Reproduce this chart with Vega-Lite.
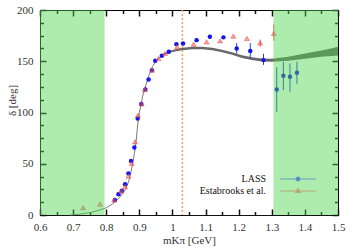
{
  "$schema": "https://vega.github.io/schema/vega-lite/v6.json",
  "width": 298,
  "height": 205,
  "autosize": {"type": "none"},
  "padding": {"left": 40, "top": 10, "right": 22, "bottom": 35},
  "background": "white",
  "config": {
    "view": {"stroke": "black", "strokeWidth": 1},
    "axis": {
      "grid": false,
      "labelFont": "Liberation Serif",
      "labelFontSize": 11,
      "labelColor": "#333",
      "titleFont": "Liberation Serif",
      "titleFontSize": 11,
      "titleFontWeight": "normal",
      "titleColor": "#333",
      "domainColor": "#111",
      "labelOverlap": false,
      "labelFlush": false
    },
    "legend": {
      "orient": "none",
      "legendX": 252,
      "legendY": 163,
      "padding": 0,
      "labelFont": "Liberation Serif",
      "labelFontSize": 10,
      "labelColor": "#111",
      "labelAlign": "right",
      "labelOffset": -38,
      "symbolSize": 100,
      "symbolStrokeWidth": 1.2,
      "rowPadding": 1
    }
  },
  "datasets": {
    "curve": [
      {"m": 0.69, "d": 0}, {"m": 0.72, "d": 0.8}, {"m": 0.74, "d": 1.7}, {"m": 0.76, "d": 3},
      {"m": 0.78, "d": 4.9}, {"m": 0.8, "d": 7}, {"m": 0.82, "d": 11}, {"m": 0.84, "d": 17},
      {"m": 0.85, "d": 21}, {"m": 0.86, "d": 26}, {"m": 0.87, "d": 35}, {"m": 0.88, "d": 50},
      {"m": 0.885, "d": 60}, {"m": 0.89, "d": 71}, {"m": 0.895, "d": 88}, {"m": 0.9, "d": 100},
      {"m": 0.905, "d": 108}, {"m": 0.91, "d": 116}, {"m": 0.92, "d": 127}, {"m": 0.93, "d": 137},
      {"m": 0.94, "d": 145}, {"m": 0.95, "d": 150}, {"m": 0.96, "d": 153.5}, {"m": 0.98, "d": 157.5},
      {"m": 1.0, "d": 160}, {"m": 1.03, "d": 162}, {"m": 1.06, "d": 163}, {"m": 1.09, "d": 163},
      {"m": 1.12, "d": 162}, {"m": 1.15, "d": 160}, {"m": 1.18, "d": 157.5}, {"m": 1.21, "d": 154.5},
      {"m": 1.24, "d": 152.5}, {"m": 1.27, "d": 151.2}, {"m": 1.3, "d": 151}, {"m": 1.35, "d": 152.5},
      {"m": 1.4, "d": 155}, {"m": 1.45, "d": 157.5}, {"m": 1.5, "d": 160}
    ],
    "band": [
      {"m": 0.97, "lo": 156, "hi": 157},
      {"m": 1.0, "lo": 159, "hi": 161},
      {"m": 1.03, "lo": 160.8, "hi": 163.2},
      {"m": 1.06, "lo": 161.8, "hi": 164.2},
      {"m": 1.09, "lo": 161.8, "hi": 164.2},
      {"m": 1.12, "lo": 160.8, "hi": 163.2},
      {"m": 1.15, "lo": 158.8, "hi": 161.2},
      {"m": 1.18, "lo": 156.3, "hi": 158.7},
      {"m": 1.21, "lo": 153.2, "hi": 155.8},
      {"m": 1.24, "lo": 151.2, "hi": 153.8},
      {"m": 1.27, "lo": 149.8, "hi": 152.6},
      {"m": 1.3, "lo": 149.5, "hi": 152.5},
      {"m": 1.35, "lo": 150.5, "hi": 154.5},
      {"m": 1.4, "lo": 152.5, "hi": 157.5},
      {"m": 1.45, "lo": 154.5, "hi": 160.5},
      {"m": 1.5, "lo": 155.5, "hi": 164}
    ],
    "threshold": [{"m": 1.03}],
    "zones": [{"a": 0.6, "b": 0.795}, {"a": 1.305, "b": 1.5}],
    "lass": [
      {"series": "LASS", "m": 0.826, "d": 14.6},
      {"series": "LASS", "m": 0.837, "d": 20.2},
      {"series": "LASS", "m": 0.847, "d": 23.7},
      {"series": "LASS", "m": 0.857, "d": 29.9},
      {"series": "LASS", "m": 0.867, "d": 40.6},
      {"series": "LASS", "m": 0.875, "d": 52.6},
      {"series": "LASS", "m": 0.885, "d": 65.8},
      {"series": "LASS", "m": 0.895, "d": 94.2},
      {"series": "LASS", "m": 0.906, "d": 108.2},
      {"series": "LASS", "m": 0.918, "d": 122.5},
      {"series": "LASS", "m": 0.928, "d": 132.3},
      {"series": "LASS", "m": 0.938, "d": 141.3},
      {"series": "LASS", "m": 0.948, "d": 150.4},
      {"series": "LASS", "m": 0.968, "d": 155.3},
      {"series": "LASS", "m": 0.989, "d": 159.2},
      {"series": "LASS", "m": 1.012, "d": 166.7},
      {"series": "LASS", "m": 1.032, "d": 167.4},
      {"series": "LASS", "m": 1.073, "d": 170.6},
      {"series": "LASS", "m": 1.113, "d": 173.8},
      {"series": "LASS", "m": 1.154, "d": 173.3},
      {"series": "LASS", "m": 1.194, "d": 162.5, "lo": 157.4, "hi": 167.7},
      {"series": "LASS", "m": 1.235, "d": 160.1, "lo": 152.7, "hi": 167.7},
      {"series": "LASS", "m": 1.275, "d": 151.1, "lo": 146.4, "hi": 157.3},
      {"series": "LASS", "m": 1.315, "d": 122.5, "lo": 100.6, "hi": 144.1},
      {"series": "LASS", "m": 1.335, "d": 135.8, "lo": 121.9, "hi": 149.5},
      {"series": "LASS", "m": 1.355, "d": 134.8, "lo": 120.3, "hi": 147.9},
      {"series": "LASS", "m": 1.376, "d": 138.7, "lo": 127.9, "hi": 149.5}
    ],
    "estab": [
      {"series": "Estabrooks et al.", "m": 0.73, "d": 7.1},
      {"series": "Estabrooks et al.", "m": 0.781, "d": 10.7},
      {"series": "Estabrooks et al.", "m": 0.824, "d": 14.6},
      {"series": "Estabrooks et al.", "m": 0.845, "d": 23.4},
      {"series": "Estabrooks et al.", "m": 0.857, "d": 27.6},
      {"series": "Estabrooks et al.", "m": 0.867, "d": 38},
      {"series": "Estabrooks et al.", "m": 0.877, "d": 50.4},
      {"series": "Estabrooks et al.", "m": 0.887, "d": 71.4},
      {"series": "Estabrooks et al.", "m": 0.896, "d": 97.5},
      {"series": "Estabrooks et al.", "m": 0.907, "d": 108.5},
      {"series": "Estabrooks et al.", "m": 0.917, "d": 122.5},
      {"series": "Estabrooks et al.", "m": 0.938, "d": 141.3},
      {"series": "Estabrooks et al.", "m": 0.958, "d": 152.7},
      {"series": "Estabrooks et al.", "m": 0.978, "d": 157.6},
      {"series": "Estabrooks et al.", "m": 1.014, "d": 164},
      {"series": "Estabrooks et al.", "m": 1.064, "d": 166.7},
      {"series": "Estabrooks et al.", "m": 1.103, "d": 168.9},
      {"series": "Estabrooks et al.", "m": 1.144, "d": 169.9},
      {"series": "Estabrooks et al.", "m": 1.184, "d": 174.5},
      {"series": "Estabrooks et al.", "m": 1.225, "d": 172.2},
      {"series": "Estabrooks et al.", "m": 1.265, "d": 167.9, "lo": 164, "hi": 171.2},
      {"series": "Estabrooks et al.", "m": 1.306, "d": 177.1, "lo": 170, "hi": 186}
    ]
  },
  "resolve": {"axis": {"x": "independent", "y": "independent"}},
  "layer": [
    {
      "data": {"name": "curve"},
      "mark": {"type": "line", "color": "#7a7a7a", "strokeWidth": 1},
      "encoding": {
        "x": {
          "field": "m", "type": "quantitative",
          "scale": {"domain": [0.6, 1.5], "nice": false, "zero": false},
          "axis": {
            "orient": "bottom", "title": "mKπ  [GeV]", "domain": true,
            "values": [0.6, 0.7, 0.8, 0.9, 1.0, 1.1, 1.2, 1.3, 1.4, 1.5],
            "format": ".1~f",
            "tickSize": 4, "tickColor": "transparent",
            "labelPadding": 2,
            "titleY": 25,
            "titleBaseline": "middle"
          }
        },
        "y": {
          "field": "d", "type": "quantitative",
          "scale": {"domain": [0, 200], "nice": false},
          "axis": {
            "orient": "left", "title": "δ [deg]", "domain": true,
            "values": [0, 50, 100, 150, 200],
            "tickSize": 4, "tickColor": "transparent",
            "labelPadding": 3,
            "titleX": -28,
            "titleY": 90,
            "titleBaseline": "middle"
          }
        }
      }
    },
    {
      "data": {"name": "band"},
      "mark": {"type": "area", "color": "#686868"},
      "encoding": {
        "x": {"field": "m", "type": "quantitative", "axis": null},
        "y": {"field": "lo", "type": "quantitative", "axis": null},
        "y2": {"field": "hi"}
      }
    },
    {
      "data": {"name": "threshold"},
      "mark": {"type": "rule", "color": "#f0a060", "strokeWidth": 1.5, "strokeDash": [2, 2]},
      "encoding": {
        "x": {"field": "m", "type": "quantitative", "axis": null}
      }
    },
    {
      "data": {"name": "lass"},
      "transform": [{"filter": "isValid(datum.lo)"}],
      "mark": {"type": "rule", "color": "#2a3fe0", "strokeWidth": 1},
      "encoding": {
        "x": {
          "field": "m", "type": "quantitative",
          "axis": {
            "orient": "top", "title": null, "labels": false, "domain": false, "tickColor": "#111", "tickWidth": 1.5,
            "values": [0.65, 0.75, 0.85, 0.95, 1.05, 1.15, 1.25, 1.35, 1.45],
            "offset": -3.5, "tickSize": 3.5
          }
        },
        "y": {
          "field": "lo", "type": "quantitative",
          "axis": {
            "orient": "right", "title": null, "labels": false, "domain": false, "tickColor": "#111", "tickWidth": 1.5,
            "values": [12.5, 25, 37.5, 62.5, 75, 87.5, 112.5, 125, 137.5, 162.5, 175, 187.5],
            "offset": -3.5, "tickSize": 3.5
          }
        },
        "y2": {"field": "hi"}
      }
    },
    {
      "data": {"name": "lass"},
      "mark": {"type": "point", "filled": true, "shape": "circle", "size": 20, "opacity": 1, "color": "#1414f0"},
      "encoding": {
        "x": {
          "field": "m", "type": "quantitative",
          "axis": {
            "orient": "top", "title": null, "labels": false, "domain": false, "tickColor": "#111", "tickWidth": 1.5,
            "values": [0.6, 0.7, 0.8, 0.9, 1.0, 1.1, 1.2, 1.3, 1.4, 1.5],
            "offset": -6, "tickSize": 6
          }
        },
        "y": {
          "field": "d", "type": "quantitative",
          "axis": {
            "orient": "right", "title": null, "labels": false, "domain": false, "tickColor": "#111", "tickWidth": 1.5,
            "values": [0, 50, 100, 150, 200],
            "offset": -6, "tickSize": 6
          }
        }
      }
    },
    {
      "data": {"name": "estab"},
      "transform": [{"filter": "isValid(datum.lo)"}],
      "mark": {"type": "rule", "color": "#f06060", "strokeWidth": 1},
      "encoding": {
        "x": {
          "field": "m", "type": "quantitative",
          "axis": {
            "orient": "bottom", "title": null, "labels": false, "domain": false, "tickColor": "#111", "tickWidth": 1.5,
            "values": [0.65, 0.75, 0.85, 0.95, 1.05, 1.15, 1.25, 1.35, 1.45],
            "offset": -3.5, "tickSize": 3.5
          }
        },
        "y": {
          "field": "lo", "type": "quantitative",
          "axis": {
            "orient": "left", "title": null, "labels": false, "domain": false, "tickColor": "#111", "tickWidth": 1.5,
            "values": [12.5, 25, 37.5, 62.5, 75, 87.5, 112.5, 125, 137.5, 162.5, 175, 187.5],
            "offset": -3.5, "tickSize": 3.5
          }
        },
        "y2": {"field": "hi"}
      }
    },
    {
      "data": {"name": "estab"},
      "mark": {"type": "point", "filled": true, "shape": "triangle-up", "size": 24, "color": "#f04848", "fillOpacity": 0.5, "stroke": "#e85050", "strokeWidth": 0.6, "strokeOpacity": 0.9},
      "encoding": {
        "x": {
          "field": "m", "type": "quantitative",
          "axis": {
            "orient": "bottom", "title": null, "labels": false, "domain": false, "tickColor": "#111", "tickWidth": 1.5,
            "values": [0.6, 0.7, 0.8, 0.9, 1.0, 1.1, 1.2, 1.3, 1.4, 1.5],
            "offset": -6, "tickSize": 6
          }
        },
        "y": {
          "field": "d", "type": "quantitative",
          "axis": {
            "orient": "left", "title": null, "labels": false, "domain": false, "tickColor": "#111", "tickWidth": 1.5,
            "values": [0, 50, 100, 150, 200],
            "offset": -6, "tickSize": 6
          }
        }
      }
    },
    {
      "data": {"name": "zones"},
      "mark": {"type": "rect", "color": "#4cd44c", "opacity": 0.45},
      "encoding": {
        "x": {"field": "a", "type": "quantitative", "axis": null},
        "x2": {"field": "b"}
      }
    },
    {
      "data": {"name": "lass"},
      "transform": [{"filter": "false"}],
      "mark": {"type": "point", "filled": true, "size": 100, "strokeWidth": 1.2},
      "encoding": {
        "color": {
          "field": "series", "type": "nominal",
          "scale": {"domain": ["LASS", "Estabrooks et al."], "range": ["#1030c0", "#b8905a"]},
          "legend": {"title": null}
        },
        "stroke": {
          "field": "series", "type": "nominal",
          "scale": {"domain": ["LASS", "Estabrooks et al."], "range": ["#4a7fd0", "#b8905a"]},
          "legend": {"title": null}
        },
        "shape": {
          "field": "series", "type": "nominal",
          "scale": {"domain": ["LASS", "Estabrooks et al."], "range": ["M-3.6,0H3.6M-0.4,0A0.4,0.4,0,1,0,0.4,0A0.4,0.4,0,1,0,-0.4,0Z", "M-3.6,0H3.6M0,-0.5L0.45,0.3L-0.45,0.3Z"]},
          "legend": {"title": null}
        }
      }
    }
  ]
}
